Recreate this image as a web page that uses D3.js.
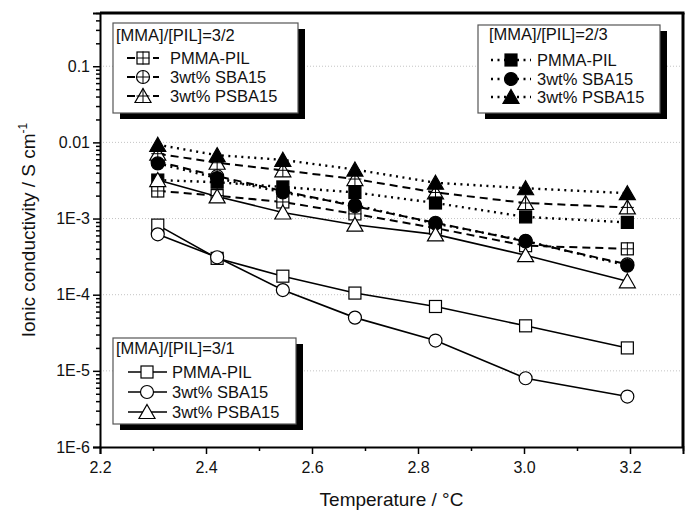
<html>
<script src='https://d3js.org/d3.v7.min.js'></script>
<style>
body {margin:0; background:#fff;}
text {font-family: 'Liberation Sans', Arial, sans-serif; fill:#111;}
</style>
<body onload='init()'>
<svg width=690 height=512></svg>
<script>
// 1000/T values
var temps = [2.309, 2.421, 2.545, 2.681, 2.833, 3.003, 3.195];
var xTicks = [2.2, 2.4, 2.6, 2.8, 3.0, 3.2];
var xMinor = [2.3, 2.5, 2.7, 2.9, 3.1, 3.3];
var yTicks = [1e-6, 1e-5, 1e-4, 1e-3, 0.01, 0.1];
var yLabels = ["1E-6", "1E-5", "1E-4", "1E-3", "0.01", "0.1"];
var names = ["PMMA-PIL", "3wt% SBA15", "3wt% PSBA15"];

// [MMA]/[PIL]=3/1
var pmma31 = [8.2e-4, 3.0e-4, 1.75e-4, 1.05e-4, 7.0e-5, 3.9e-5, 2.0e-5];
var sba31 = [6.2e-4, 3.1e-4, 1.15e-4, 5.0e-5, 2.5e-5, 8.0e-6, 4.6e-6];
var psba31 = [3.2e-3, 1.95e-3, 1.2e-3, 8.3e-4, 6.2e-4, 3.3e-4, 1.5e-4];
// [MMA]/[PIL]=3/2
var pmma32 = [2.3e-3, 2.0e-3, 1.65e-3, 1.15e-3, 7.5e-4, 4.4e-4, 4.0e-4];
var sba32 = [5.6e-3, 3.6e-3, 2.3e-3, 1.45e-3, 8.8e-4, 5.0e-4, 2.5e-4];
var psba32 = [7.1e-3, 5.4e-3, 4.3e-3, 3.3e-3, 2.2e-3, 1.6e-3, 1.4e-3];
// [MMA]/[PIL]=2/3
var pmma23 = [3.2e-3, 3.0e-3, 2.6e-3, 2.2e-3, 1.6e-3, 1.05e-3, 8.9e-4];
var sba23 = [5.3e-3, 3.4e-3, 2.2e-3, 1.5e-3, 8.6e-4, 5.1e-4, 2.4e-4];
var psba23 = [9.3e-3, 6.8e-3, 5.9e-3, 4.4e-3, 2.95e-3, 2.5e-3, 2.15e-3];

function init() {
var svg = d3.select("svg");
var L = 100, R = 683, T = 13, B = 447;
var x = d3.scaleLinear().domain([2.2, 3.3]).range([L, R]);
var y = d3.scaleLog().domain([1e-6, 0.5]).range([B, T]);

// grid
svg.append("g").selectAll("line").data(yTicks.slice(1)).enter().append("line")
  .attr("x1", L).attr("x2", R).attr("y1", d => y(d)).attr("y2", d => y(d))
  .attr("stroke", "#c4c4c4").attr("stroke-width", 1).attr("stroke-dasharray", "1,2");

// frame: top and right
svg.append("line").attr("x1", L).attr("x2", R + 1.5).attr("y1", T).attr("y2", T).attr("stroke", "#000").attr("stroke-width", 3);
svg.append("line").attr("x1", R).attr("x2", R).attr("y1", T).attr("y2", B).attr("stroke", "#000").attr("stroke-width", 3);

// y axis
var minor = [];
for (var e = -6; e <= -1; e++) for (var k = 2; k <= 9; k++) { var v = k * Math.pow(10, e); if (v <= 0.5) minor.push(v); }
var ya = svg.append("g").attr("transform", "translate(" + L + ",0)")
  .call(d3.axisLeft(y).tickValues(yTicks).tickFormat((d, i) => yLabels[i]).tickSize(7).tickPadding(3));
ya.select(".domain").attr("stroke-width", 2);
ya.selectAll("text").style("font-size", "16px").style("font-family", "Liberation Sans, Arial");
svg.append("g").attr("transform", "translate(" + L + ",0)")
  .call(d3.axisLeft(y).tickValues(minor).tickFormat("").tickSize(4))
  .select(".domain").remove();

// x axis
var xa = svg.append("g").attr("transform", "translate(0," + B + ")")
  .call(d3.axisBottom(x).tickValues(xTicks).tickFormat(d3.format(".1f")).tickSize(7).tickPadding(8));
xa.select(".domain").attr("stroke-width", 2);
xa.selectAll("text").style("font-size", "16px").style("font-family", "Liberation Sans, Arial");
svg.append("g").attr("transform", "translate(0," + B + ")")
  .call(d3.axisBottom(x).tickValues(xMinor).tickFormat("").tickSize(4))
  .select(".domain").remove();
svg.selectAll(".tick line").attr("stroke-width", 1.5);

// titles
svg.append("text").attr("x", (L + R) / 2).attr("y", 506).attr("text-anchor", "middle")
  .style("font-size", "19px").text("Temperature / °C");
svg.append("text").attr("transform", "translate(35," + (T + B) / 2 + ") rotate(-90)").attr("text-anchor", "middle")
  .style("font-size", "19px").html("Ionic conductivity / S cm<tspan dy='-8' font-size='12px'>-1</tspan>");

var dot = "2,4.5", dash = "8,5";
var series = [
  {v: pmma32, line: dash, w: 2, m: "sq", cross: true},
  {v: sba32, line: dash, w: 2, m: "cir", cross: true},
  {v: psba32, line: dash, w: 2, m: "tri", cross: true},
  {v: pmma23, line: dot, w: 2.4, m: "sq", fill: true},
  {v: sba23, line: dot, w: 2.4, m: "cir", fill: true},
  {v: psba23, line: dot, w: 2.4, m: "tri", fill: true},
  {v: pmma31, line: null, w: 1.6, m: "sq"},
  {v: sba31, line: null, w: 1.6, m: "cir"},
  {v: psba31, line: null, w: 1.6, m: "tri"}
];

var line = d3.line().x((d, i) => x(temps[i])).y(d => y(d));
var lg = svg.append("g");
series.forEach(function (s) {
  lg.append("path").datum(s.v).attr("d", line).attr("fill", "none").attr("stroke", "#000")
    .attr("stroke-width", s.w).attr("stroke-dasharray", s.line);
});

function marker(g, s, cx, cy) {
  var f = s.fill ? "#000" : "#fff", sw = 1.2;
  if (s.m == "sq") {
    g.append("rect").attr("x", cx - 6).attr("y", cy - 6).attr("width", 12).attr("height", 12)
      .attr("fill", f).attr("stroke", "#000").attr("stroke-width", sw);
  } else if (s.m == "cir") {
    g.append("circle").attr("cx", cx).attr("cy", cy).attr("r", 6.5)
      .attr("fill", f).attr("stroke", "#000").attr("stroke-width", sw);
  } else {
    g.append("path").attr("d", "M" + cx + "," + (cy - 7.5) + "L" + (cx + 8) + "," + (cy + 6.5) + "L" + (cx - 8) + "," + (cy + 6.5) + "Z")
      .attr("fill", f).attr("stroke", "#000").attr("stroke-width", sw);
  }
  if (s.cross) {
    var h = s.m == "tri" ? 7.5 : 6.5;
    g.append("path").attr("d", "M" + cx + "," + (cy - h) + "V" + (cy + 6.5) + "M" + (cx - 6.5) + "," + cy + "H" + (cx + 6.5))
      .attr("stroke", "#000").attr("stroke-width", 1);
  }
}

var mg = svg.append("g");
series.forEach(function (s) {
  s.v.forEach(function (d, i) { marker(mg, s, x(temps[i]), y(d)); });
});

// legends
function legend(box, tx, ty, rows, sx0, sx1, mx, txx, title, list) {
  var g = svg.append("g");
  g.append("rect").attr("x", box[0] + 7).attr("y", box[1] + 6).attr("width", box[2]).attr("height", box[3]).attr("fill", "#000");
  g.append("rect").attr("x", box[0]).attr("y", box[1]).attr("width", box[2]).attr("height", box[3]).attr("fill", "#fff")
    .attr("stroke", "#555").attr("stroke-width", 1.2);
  g.append("text").attr("x", tx).attr("y", ty).style("font-size", "16.5px").text(title);
  list.forEach(function (s, i) {
    var cy = rows[i];
    g.append("line").attr("x1", sx0).attr("x2", sx1).attr("y1", cy).attr("y2", cy)
      .attr("stroke", "#000").attr("stroke-width", s.w).attr("stroke-dasharray", s.line);
    marker(g, s, mx, cy);
    g.append("text").attr("x", txx).attr("y", cy + 6).style("font-size", "16.5px").text(names[i]);
  });
}
legend([113, 23, 185, 90], 116, 41, [58, 77, 96], 127, 159, 143, 170, "[MMA]/[PIL]=3/2", series.slice(0, 3));
legend([478, 25, 182, 88], 489, 40, [60, 79, 97], 491, 531, 511, 537, "[MMA]/[PIL]=2/3", series.slice(3, 6));
legend([113, 338, 183, 86], 116, 354, [372, 392, 412], 128, 167, 147, 172, "[MMA]/[PIL]=3/1", series.slice(6, 9));
}
</script>
</body>
</html>
